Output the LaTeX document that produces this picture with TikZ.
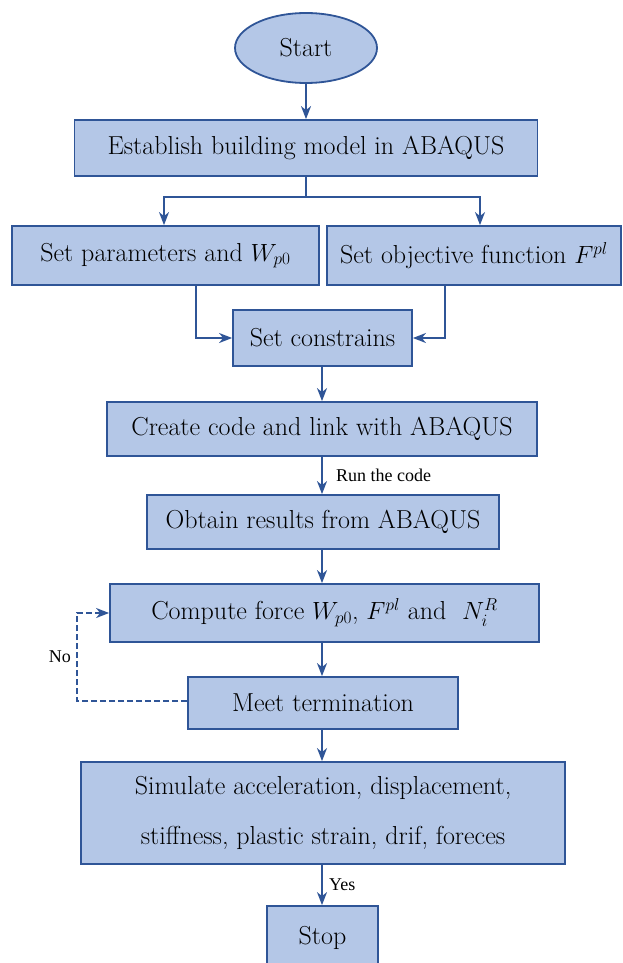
\documentclass[tikz,border=0pt]{standalone}
\usepackage{fontspec}
\newfontfamily\labelfont{Liberation Serif}
\usetikzlibrary{arrows.meta,shapes.geometric}
\definecolor{boxfill}{RGB}{180,199,231}
\definecolor{boxline}{RGB}{47,85,151}

\begin{document}
\begin{tikzpicture}[x=1pt,y=-1pt,
        box/.style={rectangle, draw=boxline, fill=boxfill, line width=1.8pt, inner sep=0pt,
            align=center, font=\fontsize{26}{30}\selectfont},
        flow/.style={draw=boxline, line width=1.6pt, -{Stealth[length=13pt,width=10pt,inset=4pt]}},
        lbl/.style={font=\labelfont\fontsize{18}{21}\selectfont}]

    \useasboundingbox (0,0) rectangle (622,963);

    \begin{scope}[every node/.style={box}]

        \node[ellipse, minimum width=142pt, minimum height=70pt] (start) at (306,48) {Start};
        \node[minimum width=463pt, minimum height=56pt] (model) at (306,148) {Establish building model in ABAQUS};
        \node[minimum width=307pt, minimum height=59pt] (params) at (165.5,255.5) {Set parameters and $W_{p0}$};
        \node[minimum width=294pt, minimum height=59pt] (objective) at (474,255.5) {Set objective function $F^{pl}$};
        \node[minimum width=179pt, minimum height=56pt] (constrains) at (322.5,338) {Set constrains};
        \node[minimum width=430pt, minimum height=54pt] (code) at (322,429) {Create code and link with ABAQUS};
        \node[minimum width=352pt, minimum height=54pt] (results) at (323,522) {Obtain results from ABAQUS};
        \node[minimum width=429pt, minimum height=58pt] (compute) at (324.5,613) {Compute force $W_{p0}$, $F^{pl}$ and \ $N_i^R$};
        \node[minimum width=270pt, minimum height=52pt] (meet) at (323,703) {Meet termination};
        \node[minimum width=484pt, minimum height=102pt, font=\fontsize{26}{50}\selectfont] (simulate) at (323,813)
            {Simulate acceleration, displacement,\\stiffness, plastic strain, drif, foreces};
        \node[minimum width=111pt, minimum height=64pt] (stop) at (322.5,938) {Stop};
    \end{scope}

    \coordinate (split) at (306,197);
    \coordinate (splitL) at (164,197);
    \coordinate (splitR) at (480,197);

    \draw[boxline, line width=1.6pt] (model.south) -- (split);
    \draw[flow] (split) -- (splitL) -- (splitL |- params.north);
    \draw[flow] (split) -- (splitR) -- (splitR |- objective.north);

    \draw[flow] (start) -- (model);
    \draw[flow] ([xshift=30.5pt]params.south) |- (constrains.west);
    \draw[flow] ([xshift=-29pt]objective.south) |- (constrains.east);
    \draw[flow] (constrains.south -| code.north) -- (code.north);
    \draw[flow] (code.south) -- node[lbl, right, xshift=10pt] {Run the code} (code.south |- results.north);
    \draw[flow] (results.south -| code.south) -- (code.south |- compute.north);
    \draw[flow] (compute.south -| code.south) -- (code.south |- meet.north);
    \draw[flow] (meet.south -| code.south) -- (code.south |- simulate.north);
    \draw[flow] (simulate.south -| code.south) -- node[lbl, right, xshift=3pt] {Yes} (code.south |- stop.north);
    \draw[flow, dash pattern=on 6pt off 3pt] ([yshift=2pt]meet.west) -- ++(-110,0)
        |- node[lbl, pos=0.25, left, xshift=-2pt] {No} (compute.west);
\end{tikzpicture}
\end{document}
